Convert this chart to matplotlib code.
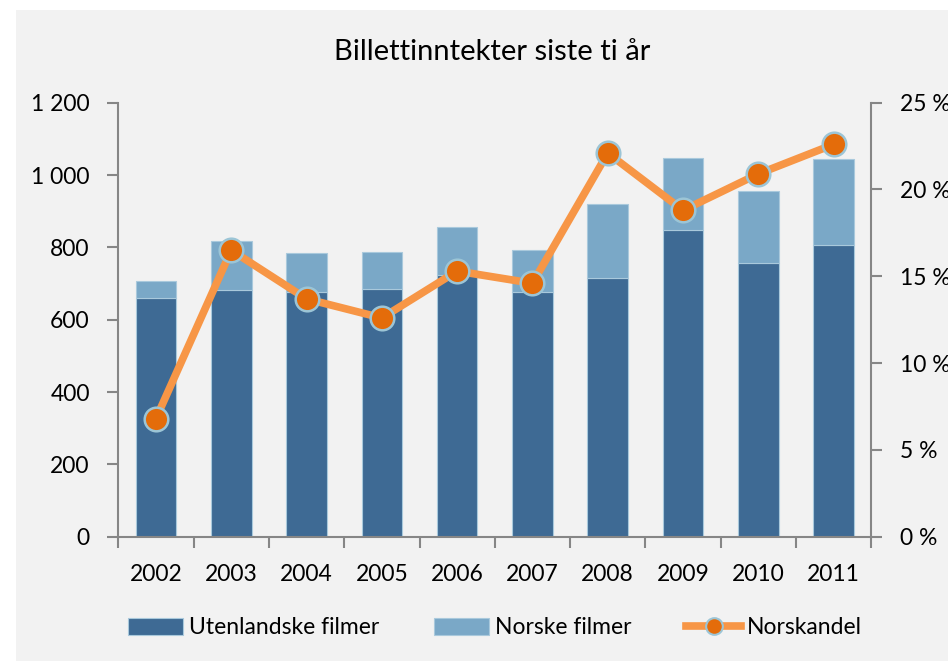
import matplotlib
matplotlib.use("Agg")
import matplotlib.pyplot as plt
from matplotlib.patches import Rectangle
from matplotlib.lines import Line2D
from matplotlib.ticker import FixedLocator, FixedFormatter
import numpy as np

years = ["2002", "2003", "2004", "2005", "2006", "2007", "2008", "2009", "2010", "2011"]
utenlandske = [660, 682, 677, 686, 724, 677, 716, 849, 757, 807]
norske = [48, 135, 107, 100, 131, 116, 204, 197, 200, 236]
norskandel = [6.8, 16.5, 13.7, 12.6, 15.3, 14.6, 22.1, 18.8, 20.9, 22.6]

left_ticks = [0, 200, 400, 600, 800, 1000, 1200]
left_labels = ["0", "200", "400", "600", "800", "1 000", "1 200"]
right_ticks = [0, 5, 10, 15, 20, 25]
right_labels = ["0 %", "5 %", "10 %", "15 %", "20 %", "25 %"]

title = "Billettinntekter siste ti år"
series_names = ["Utenlandske filmer", "Norske filmer", "Norskandel"]

FONT = "Lato"
FS = 16.5
DARK = "#3e6a94"
LIGHT = "#7aa8c7"
EDGE = "#a9c9dc"
ORANGE = "#f79646"
MARK = "#e46c0a"
MEDGE = "#9cc5d6"
AXC = "#868686"
BG = "#f2f2f2"

plt.rcParams["font.family"] = [FONT, "DejaVu Sans"]

fig = plt.figure(figsize=(9.48, 6.61), dpi=100)
fig.patch.set_facecolor("white")
fig.patches.append(Rectangle((16 / 948, 0), 1 - 16 / 948, 1 - 10 / 661,
                             transform=fig.transFigure, facecolor=BG,
                             edgecolor="none", zorder=-10))

ax = fig.add_axes([118.3 / 948, 1 - 536.7 / 661, (871.3 - 118.3) / 948, (536.7 - 102.7) / 661])
ax.set_facecolor("none")
x = np.arange(len(years))
w = 0.54
b1 = ax.bar(x, utenlandske, w, color=DARK, edgecolor=EDGE, linewidth=0.8, label=series_names[0], zorder=2)
b2 = ax.bar(x, norske, w, bottom=utenlandske, color=LIGHT, edgecolor=EDGE, linewidth=0.8, label=series_names[1], zorder=2)

ax.set_xlim(-0.5, len(years) - 0.5)
ax.set_ylim(0, 1200)
ax.yaxis.set_major_locator(FixedLocator(left_ticks))
ax.yaxis.set_major_formatter(FixedFormatter(left_labels))
ax.set_xticks(x)
ax.set_xticklabels(years)
ax.set_xticks(np.arange(-0.5, len(years), 1.0), minor=True)
ax.tick_params(axis="x", which="major", length=0, pad=20, labelsize=FS)
ax.tick_params(axis="x", which="minor", length=8, width=1.5, color=AXC, direction="out")
ax.tick_params(axis="y", length=8, width=1.5, color=AXC, direction="out", pad=12.5, labelsize=FS)
for s in ["top", "right"]:
    ax.spines[s].set_visible(False)
for s in ["left", "bottom"]:
    ax.spines[s].set_color(AXC)
    ax.spines[s].set_linewidth(1.5)
ax.spines["bottom"].set_zorder(3)

ax2 = ax.twinx()
ax2.set_ylim(0, 25)
ax2.yaxis.set_major_locator(FixedLocator(right_ticks))
ax2.yaxis.set_major_formatter(FixedFormatter(right_labels))
ax2.tick_params(axis="y", length=8, width=1.5, color=AXC, direction="out", pad=12.5, labelsize=FS)
for s in ["top", "left", "bottom"]:
    ax2.spines[s].set_visible(False)
ax2.spines["right"].set_color(AXC)
ax2.spines["right"].set_linewidth(1.5)
ln, = ax2.plot(x, norskandel, color=ORANGE, linewidth=5.5, marker="o", markersize=17,
               markerfacecolor=MARK, markeredgecolor=MEDGE, markeredgewidth=1.8,
               label=series_names[2], solid_capstyle="round", zorder=5)

fig.text(0.519, 1 - 52 / 661, title, ha="center", va="center", fontsize=21)

lh = Line2D([0], [0], color=ORANGE, linewidth=5.5, marker="o", markersize=12,
            markerfacecolor=MARK, markeredgecolor=MEDGE, markeredgewidth=1.5)
leg = fig.legend([b1, b2, lh], series_names, loc="center", bbox_to_anchor=(0.522, 1 - 628 / 661),
                 ncol=3, frameon=False, fontsize=FS, handlelength=2.4, handleheight=0.75,
                 handletextpad=0.25, columnspacing=2.4)

fig.savefig("out.png", dpi=100, facecolor=fig.get_facecolor())
